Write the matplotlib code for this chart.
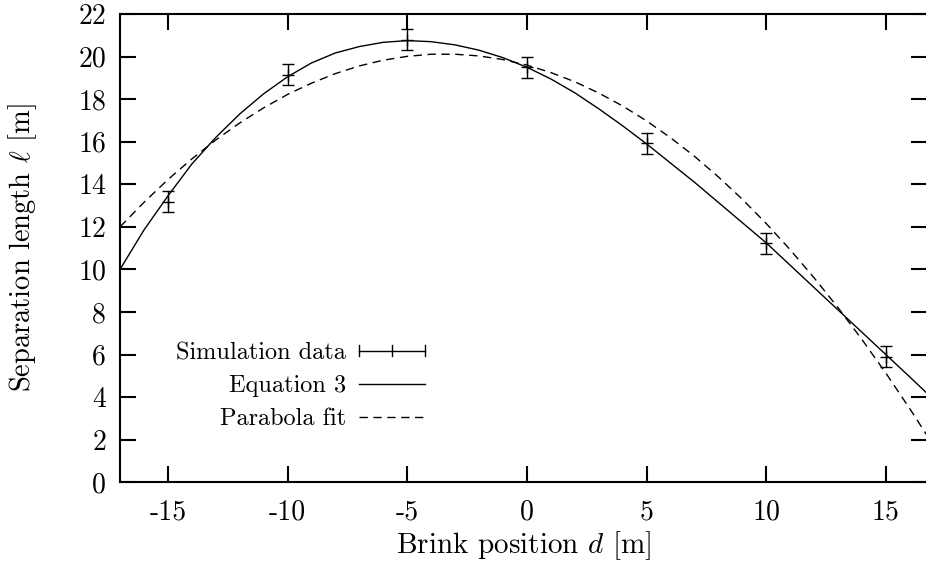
#!/usr/bin/env python3
import numpy as np
import matplotlib
matplotlib.use('Agg')
import matplotlib.pyplot as plt
from matplotlib.legend_handler import HandlerBase
from matplotlib.lines import Line2D

plt.rcParams['font.family'] = 'cmr10'
plt.rcParams['mathtext.fontset'] = 'cm'
plt.rcParams['axes.unicode_minus'] = False
plt.rcParams['axes.formatter.use_mathtext'] = False

# simulation data (brink position d, separation length, error)
sim_d = [-15, -10, -5, 0, 5, 10, 15]
sim_len = [13.18, 19.15, 20.8, 19.49, 15.92, 11.23, 5.9]
sim_err = [0.5, 0.5, 0.5, 0.5, 0.5, 0.5, 0.5]

# curves
curve_d = [-17, -16, -15, -14, -13, -12, -11, -10, -9, -8, -7, -6, -5, -4,
           -3, -2, -1, 0, 1, 2, 3, 4, 5, 6, 7, 8, 9, 10, 11, 12, 13, 14,
           15, 16, 16.75]
eq3_len = [10.0, 11.85, 13.45, 14.95, 16.2, 17.3, 18.25, 19.05, 19.7, 20.17,
           20.47, 20.67, 20.75, 20.7, 20.55, 20.3, 19.95, 19.5, 18.95, 18.3,
           17.55, 16.75, 15.9, 15.0, 14.1, 13.15, 12.2, 11.25, 10.2, 9.15,
           8.1, 7.05, 6.0, 4.95, 4.15]
parab_len = [12.0, 13.15, 14.22, 15.19, 16.08, 16.88, 17.59, 18.22, 18.75,
             19.2, 19.56, 19.83, 20.01, 20.11, 20.11, 20.03, 19.86, 19.6,
             19.25, 18.82, 18.29, 17.68, 16.98, 16.19, 15.32, 14.35, 13.3,
             12.16, 10.93, 9.61, 8.21, 6.71, 5.13, 3.46, 2.15]

xticks = [-15, -10, -5, 0, 5, 10, 15]
yticks = list(range(0, 23, 2))


class HandlerHErr(HandlerBase):
    """gnuplot style key sample: horizontal bar with caps and a centre tick"""
    def create_artists(self, legend, orig_handle, xdescent, ydescent,
                       width, height, fontsize, trans):
        y = height / 2 - ydescent
        c = 0.3 * height
        x0, x1 = -xdescent, width - xdescent
        xm = (x0 + x1) / 2
        arts = [Line2D([x0, x1], [y, y]),
                Line2D([x0, x0], [y - c, y + c]),
                Line2D([x1, x1], [y - c, y + c]),
                Line2D([xm, xm], [y - c, y + c])]
        for a in arts:
            a.set_color('k')
            a.set_linewidth(1.0)
            a.set_transform(trans)
        return arts


fig = plt.figure(figsize=(9.26, 5.64), dpi=100)
ax = fig.add_axes([120 / 926, 81.7 / 564, 807 / 926, 468.3 / 564])

ax.errorbar(sim_d, sim_len, yerr=sim_err, fmt='+', color='k', ms=8,
            mew=1.0, elinewidth=1.0, capsize=4, capthick=1.0)
eq_line, = ax.plot(curve_d, eq3_len, color='k', lw=1.0)
par_line, = ax.plot(curve_d, parab_len, color='k', lw=1.0,
                    linestyle=(0, (6, 4)))

ax.set_xlim(-17, 16.72)
ax.set_ylim(0, 22)
ax.set_xticks(xticks)
ax.set_yticks(yticks)
ax.tick_params(direction='in', length=11.5, width=1.5, labelsize=20,
               top=True, right=True, pad=10)
ax.tick_params(axis='x', pad=12)
for s in ax.spines.values():
    s.set_linewidth(1.5)

ax.set_xlabel(r'Brink position $d$ [m]', fontsize=21, labelpad=3)
ax.set_ylabel(r'Separation length $\ell$ [m]', fontsize=20.5, labelpad=28)

sim_handle = object()
ax.legend([sim_handle, eq_line, par_line],
          ['Simulation data', 'Equation 3', 'Parabola fit'],
          handler_map={object: HandlerHErr()},
          loc='center right', bbox_to_anchor=(0.378, 0.2056),
          borderaxespad=0, borderpad=0,
          markerfirst=False, frameon=False, fontsize=17.5,
          handlelength=2.7, handletextpad=0.55, labelspacing=0.45)

plt.savefig('out.png', dpi=100)
